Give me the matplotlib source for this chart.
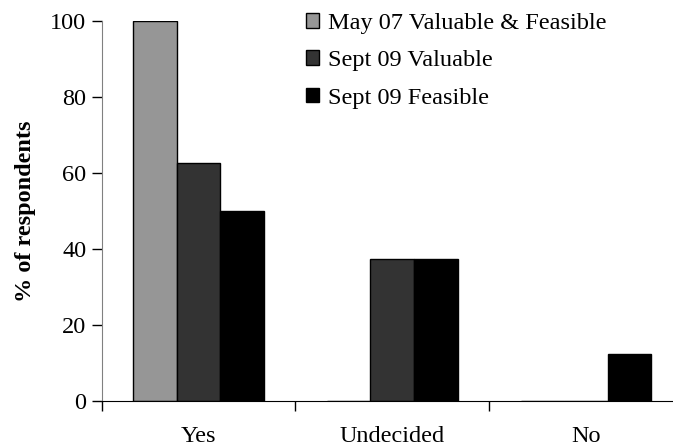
import matplotlib
matplotlib.use("Agg")
import matplotlib.pyplot as plt
from matplotlib.patches import Patch
import numpy as np

categories = ["Yes", "Undecided", "No"]
series_names = ["May 07 Valuable & Feasible", "Sept 09 Valuable", "Sept 09 Feasible"]
may07_valuable_feasible = [100, 0, 0]
sept09_valuable = [62.5, 37.5, 0]
sept09_feasible = [50, 37.5, 12.5]
colors = ["#969696", "#333333", "#000000"]
yticks = [0, 20, 40, 60, 80, 100]

plt.rcParams['font.family'] = ['Liberation Serif', 'DejaVu Serif']
fs = 17.5

fig = plt.figure(figsize=(6.73, 4.48), dpi=100)
ax = fig.add_axes([101.7/673, 47/448, 581/673, 380/448])

x = np.arange(len(categories))
w = 0.225
series = [may07_valuable_feasible, sept09_valuable, sept09_feasible]
for i, (vals, c) in enumerate(zip(series, colors)):
    ax.bar(x + (i - 1) * w, vals, w, color=c, edgecolor="black", linewidth=1.0, zorder=2)

ax.set_xlim(-0.5, 2.5)
ax.set_ylim(0, 100)
ax.set_yticks(yticks)
ax.set_yticklabels([str(t) for t in yticks], fontsize=fs)
ax.set_xticks(x)
ax.set_xticklabels(categories, fontsize=fs)
ax.set_xticks([-0.5, 0.5, 1.5, 2.5], minor=True)
ax.tick_params(axis='x', which='major', length=0, pad=18)
ax.tick_params(axis='x', which='minor', length=7, direction='out', width=1)
ax.tick_params(axis='y', length=7, direction='out', width=1, pad=4)
for s in ['top', 'right']:
    ax.spines[s].set_visible(False)
ax.spines['left'].set_color('#808080')
ax.spines['bottom'].set_color('black')
ax.set_ylabel("% of respondents", fontsize=fs, fontweight='bold', labelpad=10)

handles = [Patch(facecolor=c, edgecolor='black', linewidth=1.0) for c in colors]
fig.legend(handles, series_names, loc='upper left', bbox_to_anchor=(306/673, 1 - 13/448),
           frameon=False, fontsize=fs, handlelength=0.55, handleheight=0.55,
           handletextpad=0.35, labelspacing=0.67, borderaxespad=0, borderpad=0)

fig.savefig("out.png", dpi=100)
